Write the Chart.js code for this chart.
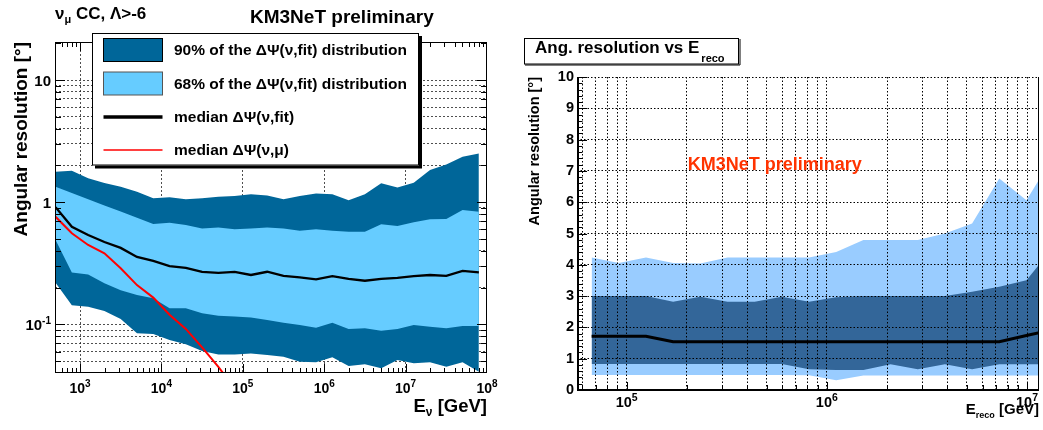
<!DOCTYPE html>
<html><head><meta charset="utf-8">
<script src="https://cdn.jsdelivr.net/npm/chart.js@4.4.1/dist/chart.umd.min.js"></script>
<style>
html,body{margin:0;padding:0;background:#fff;}
#wrap{position:relative;width:1043px;height:430px;overflow:hidden;background:#fff;}
canvas{position:absolute;top:0;}
#c1{left:0;} #c2{left:520px;}
</style></head><body>
<div id="wrap"><canvas id="c1" width="520" height="430"></canvas><canvas id="c2" width="523" height="430"></canvas></div>
<script>
// ---------------- Left panel data (E_nu in GeV, resolution in degrees) ----------------
const leftEnergy = [501, 794, 1259, 1995, 3162, 5012, 7943, 12590, 19950, 31620, 50120, 79430, 125900, 199500, 316200, 501200, 794300, 1259000, 1995000, 3162000, 5012000, 7943000, 12590000, 19950000, 31620000, 50120000, 79430000];
const left90Upper = [1.78,1.81,1.57,1.44,1.34,1.22,1.08,1.10,1.06,1.08,1.11,1.125,1.16,1.135,1.06,1.125,1.18,1.16,1.04,1.16,1.43,1.32,1.445,1.84,2.04,2.36,2.51];
const left68Upper = [1.34,1.19,1.06,0.94,0.84,0.745,0.664,0.68,0.65,0.61,0.62,0.60,0.61,0.62,0.61,0.585,0.60,0.585,0.574,0.574,0.66,0.64,0.686,0.725,0.73,0.864,0.837];
const leftMedianFit = [0.91,0.63,0.54,0.473,0.423,0.357,0.331,0.30,0.29,0.269,0.264,0.269,0.254,0.27,0.25,0.243,0.234,0.249,0.236,0.228,0.236,0.241,0.249,0.254,0.25,0.274,0.267];
const leftMedianMu = [0.76,0.557,0.447,0.382,0.288,0.21,0.166,0.12,0.092,0.065,0.045,0.030,null,null,null,null,null,null,null,null,null,null,null,null,null,null,null];
const left68Lower = [0.49,0.266,0.257,0.217,0.191,0.174,0.164,0.136,0.136,0.1235,0.118,0.116,0.114,0.109,0.1035,0.099,0.094,0.1035,0.092,0.093,0.089,0.092,0.099,0.096,0.093,0.097,0.097];
const left90Lower = [0.22,0.144,0.14,0.129,0.111,0.0848,0.0836,0.0747,0.069,0.0607,0.0568,0.0568,0.058,0.0563,0.0545,0.0496,0.049,0.0539,0.0458,0.0472,0.0438,0.0513,0.0482,0.049,0.0452,0.049,0.0411];
const leftLegendLabels = ['90% of the \u0394\u03A8(\u03BD,fit) distribution','68% of the \u0394\u03A8(\u03BD,fit) distribution','median \u0394\u03A8(\u03BD,fit)','median \u0394\u03A8(\u03BD,\u03BC)'];

// ---------------- Right panel data (E_reco in GeV, resolution in degrees) ----------------
const rightEnergy = [66830, 91360, 124900, 170700, 233400, 319000, 436100, 596200, 815000, 1114000, 1523000, 2082000, 2846000, 3890000, 5318000, 7270000, 9938000, 13590000];
const right90Upper = [4.235,4.06,4.235,4.06,4.04,4.235,4.235,4.235,4.235,4.41,4.79,4.79,4.79,5.0,5.32,6.76,6.06,7.48];
const right68Upper = [3.0,3.0,3.0,2.82,2.98,2.82,2.82,2.98,2.82,2.96,3.0,3.0,3.0,3.0,3.14,3.30,3.51,4.58];
const rightMedian = [1.72,1.72,1.72,1.54,1.54,1.54,1.54,1.54,1.54,1.54,1.54,1.54,1.54,1.54,1.54,1.54,1.74,1.93];
const right68Lower = [0.83,0.83,0.83,0.83,0.83,0.83,0.83,0.83,0.66,0.64,0.64,0.82,0.66,0.82,0.66,0.82,0.82,0.82];
const right90Lower = [0.48,0.48,0.48,0.48,0.48,0.48,0.48,0.48,0.47,0.31,0.46,0.46,0.46,0.46,0.46,0.46,0.46,0.46];

// ---------------- Tick labels ----------------
const leftXTickValues = [1e3,1e4,1e5,1e6,1e7,1e8];
const leftXTickExps = ['3','4','5','6','7','8'];
const leftYTickValues = [10,1,0.1];
const leftYTickBases = ['10','1','10'];
const leftYTickExps = ['','','-1'];
const rightXTickValues = [1e5,1e6,1e7];
const rightXTickExps = ['5','6','7'];

// ---------------- helpers ----------------
const FF = '"Liberation Sans", Arial, Helvetica, sans-serif';
const B = s => 'bold ' + s + 'px ' + FF;
Chart.defaults.font.family = FF;
const pts = (xs, ys) => xs.map((x, i) => ({x: x, y: ys[i]}));
function logMinors(lo, hi) {
  const out = [];
  for (let k = Math.floor(Math.log10(lo)); k <= Math.ceil(Math.log10(hi)); k++) {
    for (let m = 1; m <= 9; m++) {
      const v = parseFloat((m * Math.pow(10, k)).toPrecision(6));
      if (v >= lo * 0.999 && v <= hi * 1.001) out.push(v);
    }
  }
  return out;
}
const isDec = v => Math.abs(Math.log10(v) - Math.round(Math.log10(v))) < 1e-6;
function drawRich(ctx, parts, x, y, align) {
  let w = 0;
  for (const p of parts) { ctx.font = p.font; p.w = ctx.measureText(p.t).width; w += p.w + (p.gap || 0); }
  let cx = align === 'right' ? x - w : (align === 'center' ? x - w / 2 : x);
  ctx.textAlign = 'left'; ctx.textBaseline = 'alphabetic';
  for (const p of parts) {
    ctx.font = p.font; ctx.fillStyle = p.color || '#000';
    ctx.fillText(p.t, cx, y + (p.dy || 0));
    cx += p.w + (p.gap || 0);
  }
}
const band = (data, color, fill, order) => ({data: data, borderWidth: 0, borderColor: 'rgba(0,0,0,0)', backgroundColor: color, fill: fill, order: order, pointRadius: 0});

// ---------------- Left panel decorations ----------------
const leftDecor = {
  id: 'leftDecor',
  afterDraw(chart) {
    const ctx = chart.ctx, a = chart.chartArea, xs = chart.scales.x, ys = chart.scales.y;
    ctx.save();
    ctx.setLineDash([]);
    ctx.strokeStyle = '#000'; ctx.lineWidth = 1;
    ctx.beginPath();
    for (const v of logMinors(500, 9e7)) {
      const px = Math.round(xs.getPixelForValue(v)) + 0.5;
      const L = isDec(v) ? 9 : 5;
      ctx.moveTo(px, a.bottom); ctx.lineTo(px, a.bottom - L);
      ctx.moveTo(px, a.top); ctx.lineTo(px, a.top + L);
    }
    for (const v of logMinors(0.05, 20)) {
      const py = Math.round(ys.getPixelForValue(v)) + 0.5;
      const L = isDec(v) ? 10 : 6;
      ctx.moveTo(a.left, py); ctx.lineTo(a.left + L, py);
      ctx.moveTo(a.right, py); ctx.lineTo(a.right - L, py);
    }
    ctx.stroke();
    ctx.strokeRect(a.left + 0.5, a.top + 0.5, a.right - a.left - 1, a.bottom - a.top - 1);

    // tick labels
    leftXTickValues.forEach((v, i) => {
      drawRich(ctx, [{t: '10', font: B(14)}, {t: leftXTickExps[i], font: B(10), dy: -6}], xs.getPixelForValue(v), 393, 'center');
    });
    leftYTickValues.forEach((v, i) => {
      const parts = [{t: leftYTickBases[i], font: B(15)}];
      if (leftYTickExps[i]) parts.push({t: leftYTickExps[i], font: B(10), dy: -6});
      drawRich(ctx, parts, 51, ys.getPixelForValue(v) + 5.5, 'right');
    });
    // axis titles
    drawRich(ctx, [{t: 'E', font: B(18.5)}, {t: '\u03BD', font: B(12), dy: 4}, {t: ' [GeV]', font: B(18.5)}], a.right, 412, 'right');
    ctx.save(); ctx.translate(26.5, a.top); ctx.rotate(-Math.PI / 2);
    drawRich(ctx, [{t: 'Angular resolution [\u00B0]', font: B(19)}], 0, 0, 'right');
    ctx.restore();
    // top texts
    drawRich(ctx, [{t: '\u03BD', font: B(17)}, {t: '\u03BC', font: B(11), dy: 4}, {t: ' CC, \u039B>-6', font: B(17)}], 55, 19, 'left');
    drawRich(ctx, [{t: 'KM3NeT preliminary', font: B(19)}], 250, 22.5, 'left');

    // legend
    ctx.fillStyle = '#000'; ctx.fillRect(95, 36, 327, 132.5);
    ctx.fillStyle = '#fff'; ctx.fillRect(92, 33, 327, 132.5);
    ctx.strokeStyle = '#000'; ctx.lineWidth = 1; ctx.strokeRect(92.5, 33.5, 326, 131.5);
    ctx.fillStyle = 'rgb(0,102,153)'; ctx.fillRect(103.5, 38.5, 59, 23);
    ctx.strokeStyle = '#000'; ctx.strokeRect(103.5, 38.5, 59, 23);
    ctx.fillStyle = 'rgb(102,204,255)'; ctx.fillRect(103.5, 72, 59, 23);
    ctx.strokeStyle = '#555'; ctx.strokeRect(103.5, 72, 59, 23);
    ctx.strokeStyle = '#000'; ctx.lineWidth = 3.5;
    ctx.beginPath(); ctx.moveTo(103.5, 117); ctx.lineTo(162.5, 117); ctx.stroke();
    ctx.strokeStyle = '#ff0000'; ctx.lineWidth = 1.6;
    ctx.beginPath(); ctx.moveTo(103.5, 150); ctx.lineTo(162.5, 150); ctx.stroke();
    const bl = [55.4, 88.7, 122, 155.4];
    leftLegendLabels.forEach((s, i) => drawRich(ctx, [{t: s, font: B(15.5)}], 174, bl[i], 'left'));
    ctx.restore();
  }
};

new Chart(document.getElementById('c1'), {
  type: 'line',
  data: {datasets: [
    {data: pts(leftEnergy, leftMedianFit), borderColor: '#000', borderWidth: 2.3, order: 0, pointRadius: 0, fill: false},
    {data: pts(leftEnergy, leftMedianMu), borderColor: '#ff0000', borderWidth: 2, order: 0, pointRadius: 0, fill: false},
    band(pts(leftEnergy, left68Upper), 'rgb(102,204,255)', '+1', 1),
    band(pts(leftEnergy, left68Lower), 'rgba(0,0,0,0)', false, 1),
    band(pts(leftEnergy, left90Upper), 'rgb(0,102,153)', '+1', 2),
    band(pts(leftEnergy, left90Lower), 'rgba(0,0,0,0)', false, 2)
  ]},
  options: {
    responsive: false, animation: false, events: [],
    layout: {padding: {left: 0, top: 42, right: 33, bottom: 0}},
    elements: {line: {tension: 0}, point: {radius: 0}},
    plugins: {legend: {display: false}, tooltip: {enabled: false}},
    scales: {
      x: {type: 'logarithmic', min: 493, max: 1e8,
        afterBuildTicks: s => { s.ticks = [1e3, 1e4, 1e5, 1e6, 1e7].map(v => ({value: v})); },
        afterFit: s => { s.height = 57; },
        ticks: {display: false},
        grid: {color: '#222', lineWidth: 0.8, drawTicks: false, borderDash: [2, 2]},
        border: {display: false, dash: [2, 2]}},
      y: {type: 'logarithmic', min: 0.0401, max: 20.46,
        afterBuildTicks: s => { s.ticks = logMinors(0.05, 10).map(v => ({value: v})); },
        afterFit: s => { s.width = 55; },
        ticks: {display: false},
        grid: {color: '#222', lineWidth: 0.8, drawTicks: false, borderDash: [2, 2]},
        border: {display: false, dash: [2, 2]}}
    }
  },
  plugins: [leftDecor]
});

// ---------------- Right panel decorations ----------------
const rightDecor = {
  id: 'rightDecor',
  afterDraw(chart) {
    const ctx = chart.ctx, a = chart.chartArea, xs = chart.scales.x, ys = chart.scales.y;
    ctx.save();
    ctx.setLineDash([]);
    ctx.strokeStyle = '#000'; ctx.lineWidth = 1;
    ctx.beginPath();
    for (let i = 0; i <= 50; i++) {
      const py = Math.round(ys.getPixelForValue(i * 0.2)) + 0.5;
      const L = (i % 5 === 0) ? 9 : 4.5;
      ctx.moveTo(a.left, py); ctx.lineTo(a.left + 1 + L, py);
    }
    for (const v of logMinors(6e4, 1.1e7)) {
      const px = Math.round(xs.getPixelForValue(v)) + 0.5;
      const L = isDec(v) ? 8 : 5;
      ctx.moveTo(px, a.bottom); ctx.lineTo(px, a.bottom - L);
    }
    ctx.stroke();
    ctx.lineWidth = 2;
    ctx.beginPath();
    ctx.moveTo(a.left + 1, a.top); ctx.lineTo(a.left + 1, a.bottom + 1);
    ctx.moveTo(a.left, a.bottom); ctx.lineTo(a.right, a.bottom);
    ctx.stroke();
    ctx.lineWidth = 1;
    ctx.beginPath(); ctx.moveTo(a.right - 0.5, a.top); ctx.lineTo(a.right - 0.5, a.bottom); ctx.stroke();

    rightXTickValues.forEach((v, i) => {
      drawRich(ctx, [{t: '10', font: B(14.5)}, {t: rightXTickExps[i], font: B(10.5), dy: -6}], xs.getPixelForValue(v), 407, 'center');
    });
    drawRich(ctx, [{t: 'E', font: B(15)}, {t: 'reco', font: B(9), dy: 4}, {t: ' [GeV]', font: B(15)}], a.right, 414, 'right');
    ctx.save(); ctx.translate(18.5, a.top); ctx.rotate(-Math.PI / 2);
    drawRich(ctx, [{t: 'Angular resolution [\u00B0]', font: B(14.5)}], 0, 0, 'right');
    ctx.restore();

    // title box
    ctx.fillStyle = '#fff'; ctx.fillRect(4, 38, 215, 26);
    ctx.strokeStyle = '#000'; ctx.lineWidth = 1; ctx.strokeRect(4.5, 38.5, 214, 25.5);
    ctx.beginPath(); ctx.moveTo(5, 65); ctx.lineTo(220, 65); ctx.lineTo(220, 39); ctx.stroke();
    drawRich(ctx, [{t: 'Ang. resolution vs E', font: B(17), gap: 2}, {t: 'reco', font: B(11), dy: 9}], 15, 52.7, 'left');
    drawRich(ctx, [{t: 'KM3NeT preliminary', font: B(18), color: '#ff3300'}], 167.7, 170, 'left');
    ctx.restore();
  }
};

new Chart(document.getElementById('c2'), {
  type: 'line',
  data: {datasets: [
    {data: pts(rightEnergy, rightMedian), borderColor: '#000', borderWidth: 3, order: 0, pointRadius: 0, fill: false},
    band(pts(rightEnergy, right90Upper), 'rgb(153,204,255)', '+1', 2),
    band(pts(rightEnergy, right90Lower), 'rgba(0,0,0,0)', false, 2),
    band(pts(rightEnergy, right68Upper), 'rgb(51,102,153)', '+1', 1),
    band(pts(rightEnergy, right68Lower), 'rgba(0,0,0,0)', false, 1)
  ]},
  options: {
    responsive: false, animation: false, events: [],
    layout: {padding: {left: 0, top: 77, right: 4, bottom: 0}},
    elements: {line: {tension: 0}, point: {radius: 0}},
    plugins: {legend: {display: false}, tooltip: {enabled: false}},
    scales: {
      x: {type: 'logarithmic', min: 56500, max: 1.148e7,
        afterBuildTicks: s => { s.ticks = logMinors(6e4, 1e7).map(v => ({value: v})); },
        afterFit: s => { s.height = 40; },
        ticks: {display: false},
        grid: {color: '#000', lineWidth: 1, drawTicks: false, z: 1, borderDash: [1.5, 2]},
        border: {display: false, dash: [1.5, 2]}},
      y: {type: 'linear', min: 0, max: 10,
        afterFit: s => { s.width = 57; },
        ticks: {stepSize: 1, padding: 3, color: '#000', font: {family: FF, size: 14.5, weight: 'bold'}},
        grid: {color: '#000', lineWidth: 1, drawTicks: false, z: 1, borderDash: [1.5, 2]},
        border: {display: false, dash: [1.5, 2]}}
    }
  },
  plugins: [rightDecor]
});
</script>
</body></html>
